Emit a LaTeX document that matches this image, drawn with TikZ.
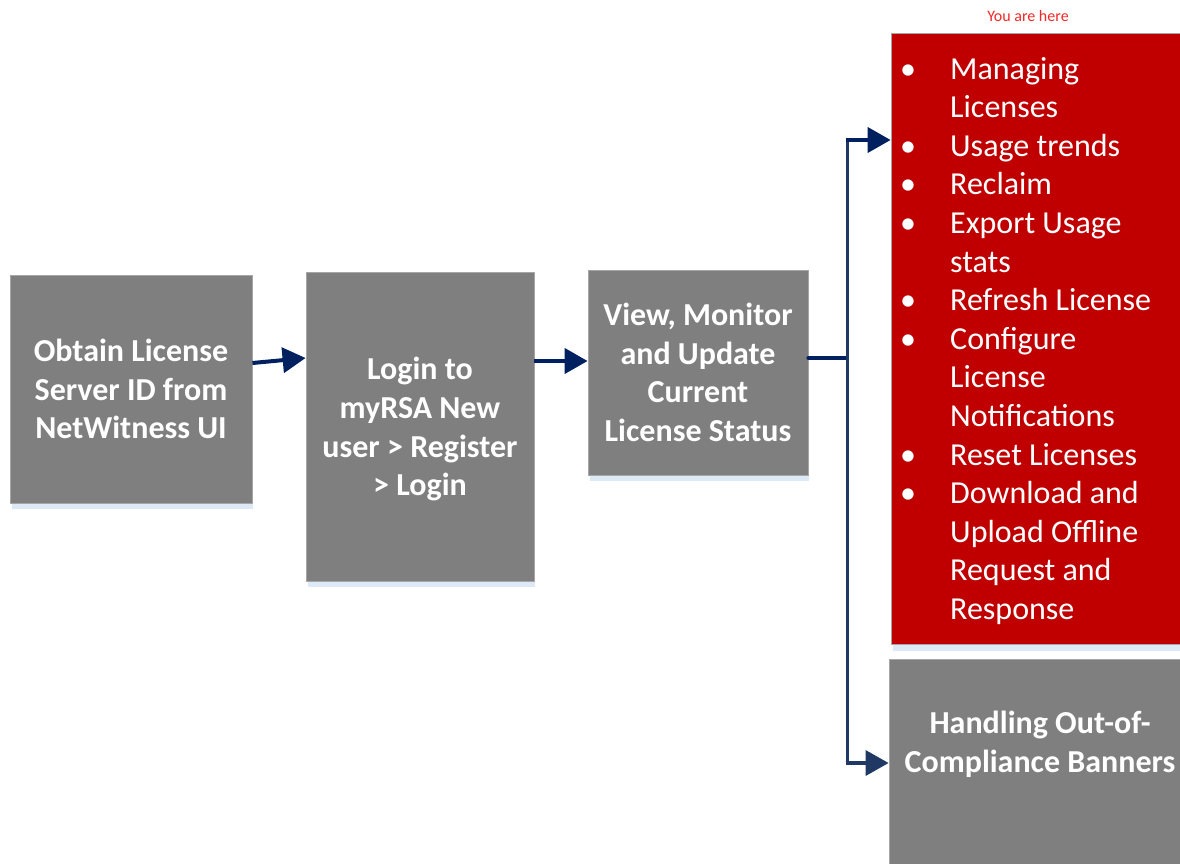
\documentclass[tikz,border=0pt]{standalone}
\usepackage{fontspec}
\setmainfont{Carlito}
\usetikzlibrary{arrows.meta,calc}
\definecolor{boxgrey}{HTML}{7F7F7F}
\definecolor{boxedge}{HTML}{A6A6A6}
\definecolor{boxred}{HTML}{C00000}
\definecolor{shade}{HTML}{DDE9F6}
\definecolor{navy}{HTML}{002060}
\definecolor{navyline}{HTML}{1F3864}
\definecolor{herered}{HTML}{F02828}
\tikzset{
  greybox/.style={draw=boxedge, line width=0.8pt, fill=boxgrey, text=white, align=center, inner sep=0pt,
    font=\fontsize{32}{38.6}\selectfont\bfseries},
  redbox/.style={draw=boxedge, line width=0.8pt, fill=boxred, inner sep=0pt},
  arr/.style={draw=navy, line width=4pt, -{Triangle[length=23pt,width=25pt]}},
  arrb/.style={draw=navyline, line width=3.5pt, -{Triangle[length=23pt,width=25pt]}},
  vline/.style={draw=navyline, line width=3pt, line cap=round},
  shadowbar/.style={fill=shade, draw=none}
}
\begin{document}
\begin{tikzpicture}[x=1pt,y=-1pt]
\useasboundingbox (0,0) rectangle (1180,863);
% shadows
\fill[shadowbar] (12,503) rectangle (253,509);
\fill[shadowbar] (308,581) rectangle (535,587);
\fill[shadowbar] (590,475) rectangle (809,481);
\fill[shadowbar] (893,644) rectangle (1180,651);
% boxes
\node[greybox, minimum width=242pt, minimum height=228pt] (box1) at (131,389)
  {Obtain License\\Server ID from\\NetWitness UI};
\node[greybox, minimum width=228pt, minimum height=309pt, text depth=0pt] (box2) at (420,426.5)
  {Login to\\myRSA New\\user > Register\\> Login};
\node[greybox, minimum width=220pt, minimum height=205pt] (box3) at (698,372.5)
  {View, Monitor\\and Update\\Current\\License Status};
\node[redbox, minimum width=292pt, minimum height=611pt] (red) at (1037,338.5) {};
\node[greybox, minimum width=294pt, minimum height=220pt] (box5) at (1036,769) {};
\node[text=white, align=center, font=\fontsize{32}{38.6}\selectfont\bfseries] (box5txt) at (1040,744)
  {Handling Out-of-\\Compliance Banners};
\node[text=herered, font=\fontsize{16}{19}\selectfont] (here) at (1028,16) {You are here};
% bullet list
\node[anchor=base west, inner sep=0pt, text=white, font=\fontsize{32}{38.6}\selectfont] (list) at (898,79)
  {\begin{tabular}[t]{@{}p{52pt}@{}l@{}}
  \makebox[20pt]{\textbullet} & Managing\\
   & Licenses\\
  \makebox[20pt]{\textbullet} & Usage trends\\
  \makebox[20pt]{\textbullet} & Reclaim\\
  \makebox[20pt]{\textbullet} & Export Usage\\
   & stats\\
  \makebox[20pt]{\textbullet} & Refresh License\\
  \makebox[20pt]{\textbullet} & Configure\\
   & License\\
   & Notifications\\
  \makebox[20pt]{\textbullet} & Reset Licenses\\
  \makebox[20pt]{\textbullet} & Download and\\
   & Upload Offline\\
   & Request and\\
   & Response
  \end{tabular}};
% connectors
\draw[arr] ([yshift=26pt]box1.east) -- ([yshift=68.5pt]box2.west);
\coordinate (a2) at ([yshift=11.5pt]box3.west);
\draw[arr] (box2.east |- a2) -- (a2);
\coordinate (jm) at (847,358);
\coordinate (jt) at (847,140);
\coordinate (jb) at (847,763);
\draw[draw=navy, line width=4pt, line cap=round] (box3.east |- jm) -- (jm);
\draw[vline] (jt) -- (jb);
\draw[arr] ([xshift=-1.5pt]jt) -- (jt -| red.west);
\draw[arrb] ([xshift=-1.5pt]jb) -- (jb -| box5.west);
\end{tikzpicture}
\end{document}
